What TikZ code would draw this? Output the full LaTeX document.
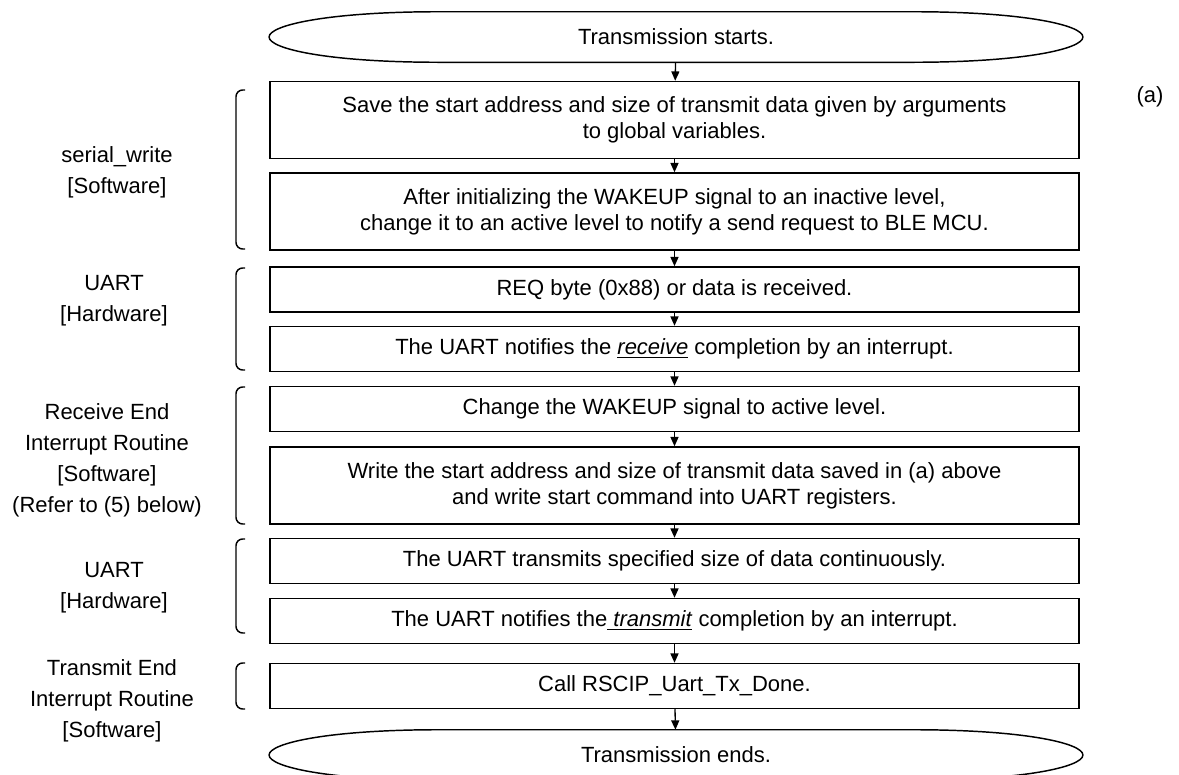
\documentclass[tikz,border=0pt]{standalone}
\usepackage{fontspec}
\setmainfont{Liberation Sans}
\usetikzlibrary{arrows.meta,calc,positioning}
\tikzset{
  flow/.style={-{Triangle[length=7pt,width=6pt]},line width=1pt},
  stepbox/.style={draw=black,line width=1.1pt,minimum width=607pt,minimum height=33.75pt,
                  inner sep=2pt,align=center,font=\fontsize{16.5}{19.5}\selectfont},
  stepboxtall/.style={stepbox,minimum height=57.75pt},
  terminal/.style={minimum width=610pt,minimum height=37.5pt,inner sep=0pt,
                   font=\fontsize{16.5}{19.5}\selectfont},
  termline/.style={black,line width=1.1pt},
  brace/.style={black,line width=1.1pt,rounded corners=5pt},
  lab/.style={align=center,font=\fontsize{16.5}{23.25}\selectfont},
}
% outline of a start/end terminal, flat sides and long pointed ends
\newcommand\termoutline[1]{%
  \draw[termline] (#1.west)
    .. controls ($(#1.west)+(0,-12)$) and ($(#1.north west)+(60,0)$) .. ($(#1.north west)+(170,0)$)
    -- ($(#1.north east)+(-170,0)$)
    .. controls ($(#1.north east)+(-60,0)$) and ($(#1.east)+(0,-12)$) .. (#1.east)
    .. controls ($(#1.east)+(0,12)$) and ($(#1.south east)+(-60,0)$) .. ($(#1.south east)+(-170,0)$)
    -- ($(#1.south west)+(170,0)$)
    .. controls ($(#1.south west)+(60,0)$) and ($(#1.west)+(0,12)$) .. (#1.west) -- cycle;}
\begin{document}
\begin{tikzpicture}[x=0.75pt,y=-0.75pt]
  \useasboundingbox (0,0) rectangle (1179,775);

  % flow
  \node[terminal] (start) at (676,37) {Transmission starts.};
  \termoutline{start}
  \node[stepboxtall] (save) at (674.5,120)
    {Save the start address and size of transmit data given by arguments\\to global variables.};
  \node[stepboxtall] (wake) at (674.5,211.5)
    {After initializing the WAKEUP signal to an inactive level,\\change it to an active level to notify a send request to BLE MCU.};
  \node[stepbox] (req) at (674.5,289.5) {REQ byte (0x88) or data is received.};
  \node[stepbox] (rxint) at (674.5,349)
    {The UART notifies the \underline{\textit{receive}} completion by an interrupt.};
  \node[stepbox] (active) at (674.5,409) {Change the WAKEUP signal to active level.};
  \node[stepboxtall] (regs) at (674.5,485.5)
    {Write the start address and size of transmit data saved in (a) above\\and write start command into UART registers.};
  \node[stepbox] (send) at (674.5,561) {The UART transmits specified size of data continuously.};
  \node[stepbox] (txint) at (674.5,621)
    {The UART notifies the\underline{ \textit{transmit}} completion by an interrupt.};
  \node[stepbox] (done) at (674.5,686) {Call RSCIP\_Uart\_Tx\_Done.};
  \node[terminal] (stop) at (676,755) {Transmission ends.};
  \termoutline{stop}

  \draw[flow] (start) -- (save);
  \draw[flow] (save) -- (wake);
  \draw[flow] (wake) -- (req);
  \draw[flow] (req) -- (rxint);
  \draw[flow] (rxint) -- (active);
  \draw[flow] (active) -- (regs);
  \draw[flow] (regs) -- (send);
  \draw[flow] (send) -- (txint);
  \draw[flow] (txint) -- (done);
  \draw[flow] (done) -- (stop);

  \node[lab] (marka) at (1150,97) {(a)};

  % who runs each step
  \draw[brace] (245,90) -| (236,249) -- (245,249);
  \draw[brace] (245,268) -| (236,370) -- (245,370);
  \draw[brace] (245,387) -| (236,524) -- (245,524);
  \draw[brace] (245,539) -| (236,633) -- (245,633);
  \draw[brace] (245,663) -| (236,709) -- (245,709);

  \node[lab] (swrite) at (117,172.5) {serial\_write\\{[Software]}};
  \node[lab] (uartrx) at (114,301) {UART\\{[Hardware]}};
  \node[lab] (rxend) at (107,460) {Receive End\\Interrupt Routine\\{[Software]}\\(Refer to (5) below)};
  \node[lab] (uarttx) at (114,588) {UART\\{[Hardware]}};
  \node[lab] (txend) at (112,701) {Transmit End\\Interrupt Routine\\{[Software]}};
\end{tikzpicture}
\end{document}
